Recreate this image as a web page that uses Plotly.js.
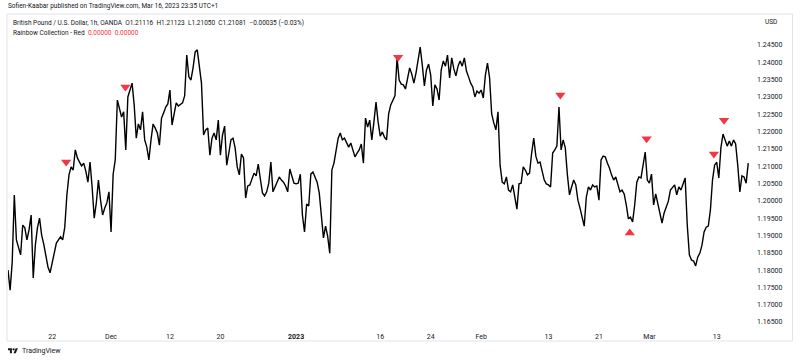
<!DOCTYPE html>
<html><head><meta charset="utf-8">
<script src="https://cdn.plot.ly/plotly-3.0.1.min.js"></script>
<style>html,body{margin:0;padding:0;background:#fff}#chart{width:800px;height:360px}</style>
</head><body><div id="chart"></div>
<script>
const startUTC = [2022, 10, 14, 18];
const stepHours = 6;
const closes = [
1.1800,1.1742,1.1823,1.2017,1.1887,1.1867,1.1844,1.1930,1.1922,1.1887,1.1916,1.1959,1.1777,1.1872,1.1922,1.1950,1.1901,1.1875,1.1835,1.1809,
1.1792,1.1823,1.1849,1.1878,1.1887,1.1896,1.1887,1.1924,1.2017,1.2075,1.2098,1.2089,1.2147,1.2124,1.2112,1.2101,1.2109,1.2086,1.2054,1.2112,
1.2040,1.1950,1.1994,1.2060,1.2002,1.1959,1.1979,1.1994,1.2026,1.1910,1.2077,1.2118,1.2291,1.2262,1.2242,1.2257,1.2147,1.2300,1.2320,1.2340,
1.2277,1.2181,1.2222,1.2205,1.2257,1.2176,1.2155,1.2118,1.2176,1.2222,1.2210,1.2196,1.2161,1.2239,1.2254,1.2271,1.2280,1.2320,1.2219,1.2251,
1.2283,1.2274,1.2280,1.2283,1.2303,1.2421,1.2358,1.2349,1.2384,1.2430,1.2436,1.2378,1.2340,1.2190,1.2205,1.2210,1.2132,1.2181,1.2196,1.2176,
1.2233,1.2132,1.2190,1.2216,1.2103,1.2138,1.2176,1.2181,1.2153,1.2098,1.2075,1.2135,1.2124,1.2008,1.2043,1.2046,1.2066,1.2080,1.2072,1.2106,
1.2063,1.2023,1.2014,1.2026,1.2051,1.2112,1.2026,1.2040,1.2051,1.2069,1.2060,1.2054,1.2043,1.2026,1.2092,1.2072,1.2051,1.2049,1.2051,1.2077,
1.1959,1.1910,1.1991,1.1985,1.2077,1.2083,1.2069,1.2054,1.2023,1.1945,1.1893,1.1927,1.1898,1.1849,1.2089,1.2109,1.2141,1.2181,1.2196,1.2176,
1.2181,1.2167,1.2155,1.2167,1.2147,1.2127,1.2138,1.2147,1.2164,1.2109,1.2239,1.2213,1.2233,1.2176,1.2228,1.2285,1.2228,1.2187,1.2199,1.2184,
1.2176,1.2251,1.2277,1.2291,1.2303,1.2413,1.2349,1.2337,1.2335,1.2323,1.2358,1.2384,1.2366,1.2340,1.2369,1.2401,1.2444,1.2392,1.2332,1.2378,
1.2395,1.2363,1.2274,1.2335,1.2323,1.2291,1.2378,1.2404,1.2389,1.2421,1.2355,1.2413,1.2381,1.2361,1.2389,1.2404,1.2389,1.2413,1.2375,1.2358,
1.2340,1.2329,1.2300,1.2317,1.2311,1.2320,1.2297,1.2363,1.2398,1.2355,1.2251,1.2225,1.2205,1.2257,1.2103,1.2054,1.2049,1.2069,1.2031,1.2026,
1.2046,1.2011,1.1976,1.2049,1.2051,1.2098,1.2089,1.2075,1.2080,1.2138,1.2181,1.2129,1.2109,1.2112,1.2089,1.2060,1.2049,1.2046,1.2040,1.2138,
1.2147,1.2158,1.2271,1.2147,1.2176,1.2153,1.2075,1.2017,1.2040,1.2060,1.2046,1.2002,1.1979,1.1950,1.1927,1.2011,1.2040,1.2031,1.2046,1.2040,
1.2043,1.2002,1.2118,1.2129,1.2127,1.2109,1.2095,1.2075,1.2060,1.2069,1.2046,1.2026,1.2031,1.2020,1.1988,1.1948,1.1953,1.1939,1.1988,1.2054,
1.2069,1.2066,1.2103,1.2141,1.2060,1.2051,1.2077,1.1988,1.2020,1.1994,1.1968,1.1936,1.1965,1.1982,1.1999,1.2031,1.2040,1.2046,1.2017,1.2040,
1.2031,1.2051,1.2066,1.1930,1.1844,1.1829,1.1826,1.1812,1.1838,1.1849,1.1872,1.1910,1.1924,1.1927,1.1973,1.2060,1.2103,1.2112,1.2066,1.2153,
1.2193,1.2176,1.2158,1.2173,1.2158,1.2176,1.2164,1.2103,1.2026,1.2072,1.2069,1.2051,1.2109
];
const tickDates = ['2022-11-22','2022-12-01','2022-12-12','2022-12-20','2023-01-02','2023-01-16','2023-01-24','2023-02-01','2023-02-13','2023-02-21','2023-03-01','2023-03-13'];
const tickText  = ['22','Dec','12','20','<b>2023</b>','16','24','Feb','13','21','Mar','13'];
const priceTicks = [1.165,1.170,1.175,1.180,1.185,1.190,1.195,1.200,1.205,1.210,1.215,1.220,1.225,1.230,1.235,1.240,1.245];
const signalDates  = ['2022-11-23 16:00','2022-12-02 17:00','2023-01-18 03:00','2023-02-14 10:00','2023-02-28 16:00','2023-02-24 16:00','2023-03-10 16:00','2023-03-13 21:00'];
const signalPrices = [1.2112,1.2329,1.2415,1.2306,1.2179,1.1907,1.2135,1.2233];
const signalDirs   = ['down','down','down','down','down','up','down','down'];

function buildTimes(n){
  const out=[]; let t=Date.UTC(...startUTC);
  while(out.length<n){
    const d=new Date(t); const wd=d.getUTCDay();
    if(wd!==0 && wd!==6) out.push(d.toISOString().slice(0,16).replace('T',' '));
    t += stepHours*3600e3;
  }
  return out;
}
const times = buildTimes(closes.length);

const W=800,H=360,M={l:8,r:50,t:15,b:33};
const pw=W-M.l-M.r, ph=H-M.t-M.b;
const fx=p=>(p-M.l)/pw, fy=p=>(H-M.b-p)/ph;
const FONT='Roboto, "Open Sans", sans-serif';
const TXT='#131722', RED='#F23645';

const dn = signalDirs.map((d,i)=>d==='down'?i:-1).filter(i=>i>=0);
const up = signalDirs.map((d,i)=>d==='up'?i:-1).filter(i=>i>=0);

const traces = [
  {type:'scatter',mode:'lines',x:times,y:closes,line:{color:'#000',width:1.4},hoverinfo:'skip'},
  {type:'scatter',mode:'markers',x:dn.map(i=>signalDates[i]),y:dn.map(i=>signalPrices[i]),
   marker:{symbol:'triangle-down',size:9,color:RED},hoverinfo:'skip'},
  {type:'scatter',mode:'markers',x:up.map(i=>signalDates[i]),y:up.map(i=>signalPrices[i]),
   marker:{symbol:'triangle-up',size:9,color:RED},hoverinfo:'skip'}
];

const logo = "data:image/svg+xml;utf8,"+encodeURIComponent("<svg xmlns='http://www.w3.org/2000/svg' viewBox='0 0 36 28'><path d='M14 22H7V11H0V4h14v18z' fill='#131722'/><circle cx='20' cy='8' r='4' fill='#131722'/><path d='M28 22h-8l7.5-18h8L28 22z' fill='#131722'/></svg>");

const layout = {
  width:W,height:H,margin:M,paper_bgcolor:'#fff',plot_bgcolor:'#fff',showlegend:false,
  font:{family:FONT,color:TXT},
  xaxis:{type:'date',range:['2022-11-14 18:00','2023-03-16 23:00'],rangebreaks:[{bounds:['sat','mon']}],
    tickvals:tickDates,ticktext:tickText,ticks:'',showgrid:false,zeroline:false,showline:false,ticklabelstandoff:4,
    tickfont:{size:7,color:TXT,family:FONT},fixedrange:true},
  yaxis:{side:'right',range:[1.16356,1.25367],tickvals:priceTicks,ticktext:priceTicks.map(v=>v.toFixed(5)),
    ticks:'',showgrid:false,zeroline:false,showline:false,ticklabelstandoff:6,
    tickfont:{size:7,color:TXT,family:FONT},fixedrange:true},
  shapes:[
    {type:'rect',xref:'paper',yref:'paper',x0:fx(7),x1:fx(792.5),y0:fy(341),y1:fy(14),line:{color:'#e0e3eb',width:1},fillcolor:'rgba(0,0,0,0)',layer:'below'}
  ],
  annotations:[
    {text:'Sofien-Kaabar published on TradingView.com, Mar 16, 2023 23:35 UTC+1',x:fx(6),y:fy(6),xref:'paper',yref:'paper',xanchor:'left',yanchor:'middle',showarrow:false,font:{size:6.5,color:TXT}},
    {text:'British Pound / U.S. Dollar, 1h, OANDA&nbsp;&nbsp;O1.21116&nbsp;&nbsp;H1.21123&nbsp;&nbsp;L1.21050&nbsp;&nbsp;C1.21081&nbsp;&nbsp;−0.00035 (−0.03%)',x:fx(11),y:fy(23),xref:'paper',yref:'paper',xanchor:'left',yanchor:'middle',showarrow:false,font:{size:6.5,color:TXT}},
    {text:'Rainbow Collection - Red&nbsp;&nbsp;<span style="color:'+RED+'">0.00000&nbsp;&nbsp;0.00000</span>',x:fx(11),y:fy(33),xref:'paper',yref:'paper',xanchor:'left',yanchor:'middle',showarrow:false,font:{size:6.5,color:TXT}},
    {text:'USD',x:fx(763),y:fy(22),xref:'paper',yref:'paper',xanchor:'left',yanchor:'middle',showarrow:false,font:{size:6.5,color:TXT}},
    {text:'TradingView',x:fx(20),y:fy(351),xref:'paper',yref:'paper',xanchor:'left',yanchor:'middle',showarrow:false,font:{size:7,color:TXT}}
  ],
  images:[{source:logo,xref:'paper',yref:'paper',x:fx(8),y:fy(347),sizex:10/pw,sizey:8/ph,xanchor:'left',yanchor:'top',sizing:'contain',layer:'above'}]
};
Plotly.newPlot('chart',traces,layout,{staticPlot:true,displayModeBar:false});
</script></body></html>
